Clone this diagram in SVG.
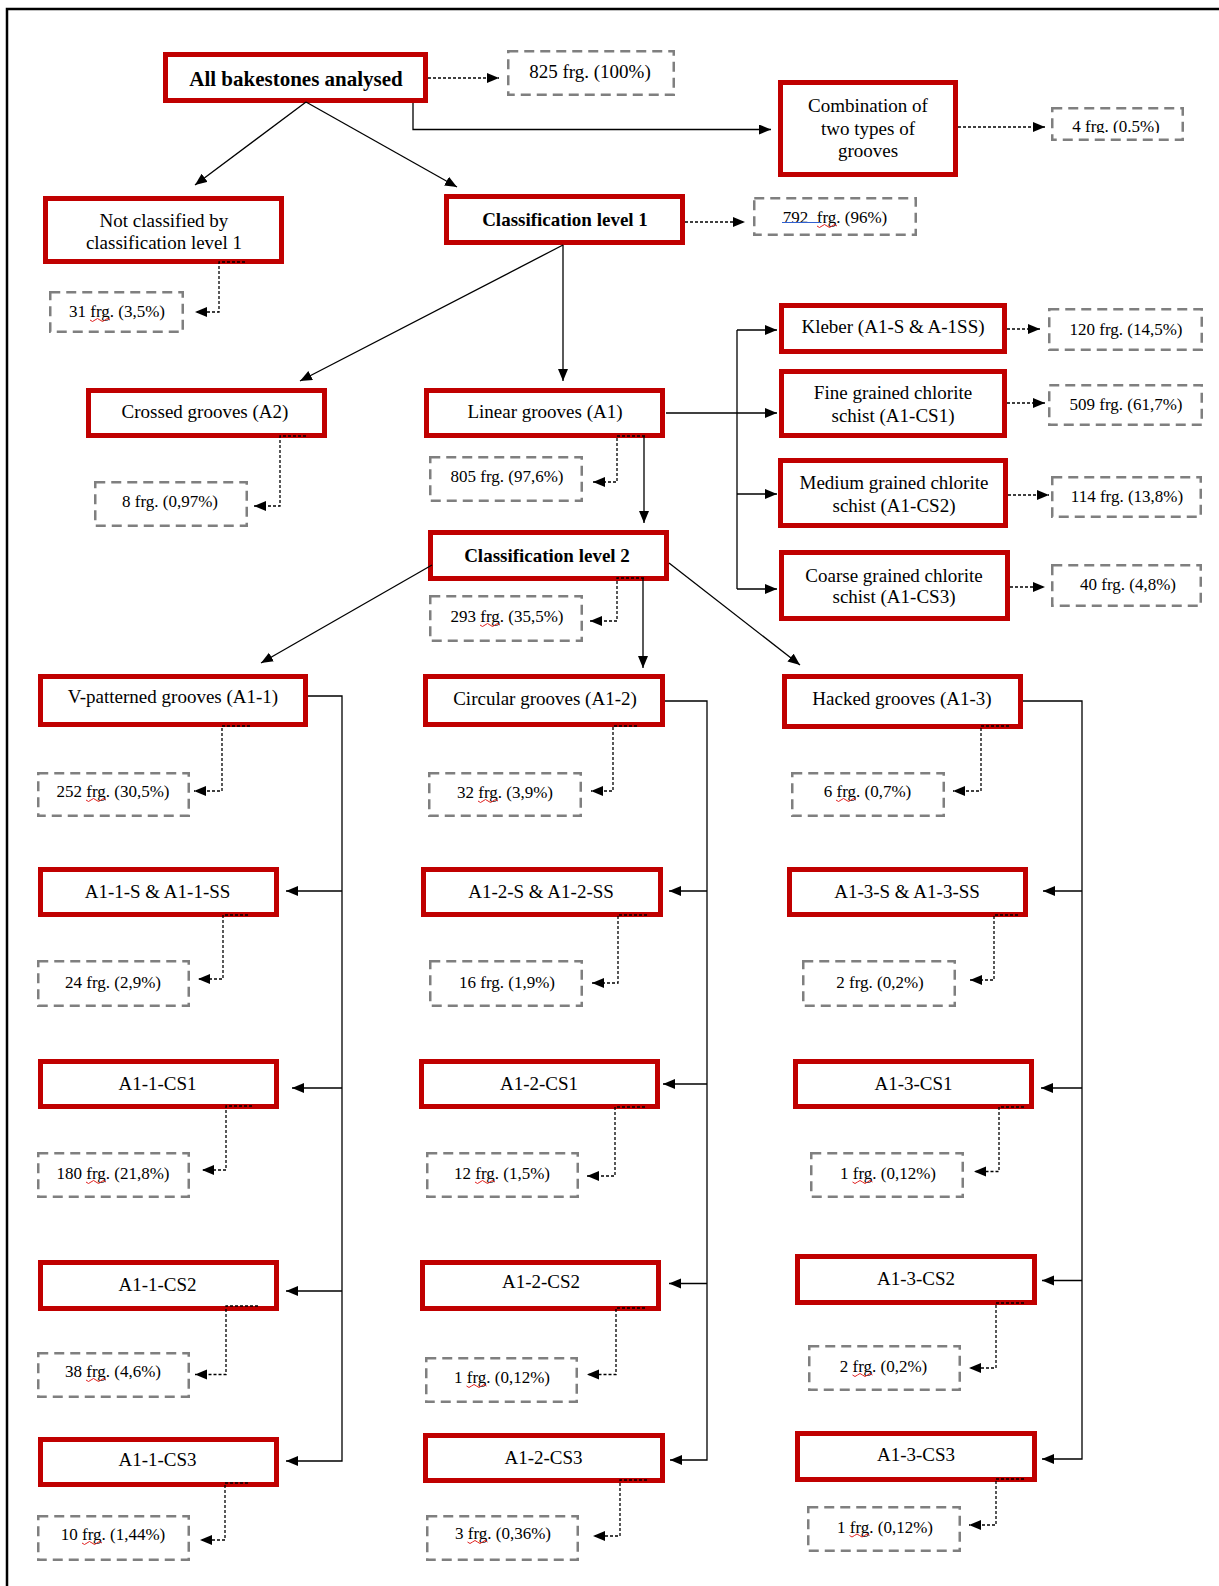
<svg xmlns="http://www.w3.org/2000/svg" width="1219" height="1586" viewBox="0 0 1219 1586">
<style>
.n rect{fill:#fff;stroke:#c00000;stroke-width:5}
.g rect{fill:#fff;stroke:#7f7f7f;stroke-width:2.5;stroke-dasharray:10 6}
text{font-family:"Liberation Serif","Times New Roman",serif;fill:#000;text-anchor:middle}
.t{font-size:19px}
.b{font-weight:bold}
.s{font-size:17px}
.c path{fill:none;stroke:#000;stroke-width:1.3}
.c .d{stroke-dasharray:3 2}
.sq{fill:none;stroke:#e02020;stroke-width:1}
</style>
<defs>
<marker id="ah" markerUnits="userSpaceOnUse" markerWidth="13" markerHeight="11" refX="12" refY="5" orient="auto"><path d="M0,0 L12,5 L0,10 z" fill="#000"/></marker>
<clipPath id="clip4"><rect x="1051" y="107" width="133" height="26"/></clipPath>
</defs>
<rect x="0" y="0" width="1219" height="1586" fill="#fff"/>
<path d="M7,1586 V9 H1219" fill="none" stroke="#000" stroke-width="2.5"/>

<g id="n-all" class="n"><rect x="165.5" y="54.5" width="260" height="46"/><text class="t b" x="296" y="86" style="font-size:21px">All bakestones analysed</text></g>
<g id="n-notclass" class="n"><rect x="45.5" y="198.5" width="236" height="63"/><text class="t" x="164" y="227">Not classified by</text><text class="t" x="164" y="249">classification level 1</text></g>
<g id="n-class1" class="n"><rect x="446.5" y="196.5" width="236" height="46"/><text class="t b" x="565" y="226">Classification level 1</text></g>
<g id="n-comb" class="n"><rect x="780.5" y="82.5" width="175" height="92"/><text class="t" x="868" y="112">Combination of</text><text class="t" x="868" y="135">two types of</text><text class="t" x="868" y="157">grooves</text></g>
<g id="n-kleber" class="n"><rect x="781.5" y="305.5" width="223" height="46"/><text class="t" x="893" y="333">Kleber (A1-S &amp; A-1SS)</text></g>
<g id="n-fine" class="n"><rect x="781.5" y="371.5" width="223" height="64"/><text class="t" x="893" y="399">Fine grained chlorite</text><text class="t" x="893" y="422">schist (A1-CS1)</text></g>
<g id="n-medium" class="n"><rect x="780.5" y="460.5" width="225" height="65"/><text class="t" x="894" y="489">Medium grained chlorite</text><text class="t" x="894" y="512">schist (A1-CS2)</text></g>
<g id="n-coarse" class="n"><rect x="781.5" y="552.5" width="226" height="66"/><text class="t" x="894" y="582">Coarse grained chlorite</text><text class="t" x="894" y="603">schist (A1-CS3)</text></g>
<g id="n-crossed" class="n"><rect x="88.5" y="390.5" width="236" height="45"/><text class="t" x="205" y="418">Crossed grooves (A2)</text></g>
<g id="n-linear" class="n"><rect x="426.5" y="390.5" width="236" height="45"/><text class="t" x="545" y="418">Linear grooves (A1)</text></g>
<g id="n-class2" class="n"><rect x="430.5" y="532.5" width="236" height="46"/><text class="t b" x="547" y="562">Classification level 2</text></g>
<g id="n-vpat" class="n"><rect x="40.5" y="676.5" width="265" height="48"/><text class="t" x="173" y="703">V-patterned grooves (A1-1)</text></g>
<g id="n-circ" class="n"><rect x="425.5" y="676.5" width="237" height="48"/><text class="t" x="545" y="705">Circular grooves (A1-2)</text></g>
<g id="n-hack" class="n"><rect x="784.5" y="676.5" width="236" height="50"/><text class="t" x="902" y="705">Hacked grooves (A1-3)</text></g>
<g id="n-a11s" class="n"><rect x="40.5" y="869.5" width="236" height="45"/><text class="t" x="157.5" y="898">A1-1-S &amp; A1-1-SS</text></g>
<g id="n-a12s" class="n"><rect x="423.5" y="869.5" width="237" height="45"/><text class="t" x="541" y="898">A1-2-S &amp; A1-2-SS</text></g>
<g id="n-a13s" class="n"><rect x="789.5" y="869.5" width="236" height="45"/><text class="t" x="907" y="898">A1-3-S &amp; A1-3-SS</text></g>
<g id="n-a11cs1" class="n"><rect x="40.5" y="1061.5" width="236" height="45"/><text class="t" x="157.5" y="1090">A1-1-CS1</text></g>
<g id="n-a12cs1" class="n"><rect x="421.5" y="1061.5" width="236" height="45"/><text class="t" x="539" y="1090">A1-2-CS1</text></g>
<g id="n-a13cs1" class="n"><rect x="795.5" y="1061.5" width="236" height="45"/><text class="t" x="913.5" y="1090">A1-3-CS1</text></g>
<g id="n-a11cs2" class="n"><rect x="40.5" y="1262.5" width="236" height="46"/><text class="t" x="157.5" y="1291">A1-1-CS2</text></g>
<g id="n-a12cs2" class="n"><rect x="422.5" y="1262.5" width="236" height="46"/><text class="t" x="541" y="1288">A1-2-CS2</text></g>
<g id="n-a13cs2" class="n"><rect x="797.5" y="1256.5" width="237" height="46"/><text class="t" x="916" y="1285">A1-3-CS2</text></g>
<g id="n-a11cs3" class="n"><rect x="40.5" y="1439.5" width="236" height="45"/><text class="t" x="157.5" y="1466">A1-1-CS3</text></g>
<g id="n-a12cs3" class="n"><rect x="425.5" y="1435.5" width="237" height="45"/><text class="t" x="543.5" y="1464">A1-2-CS3</text></g>
<g id="n-a13cs3" class="n"><rect x="797.5" y="1433.5" width="237" height="46"/><text class="t" x="916" y="1461">A1-3-CS3</text></g>

<g id="q-825" class="g"><rect x="508.25" y="51.25" width="165.5" height="43.5"/><text class="t" x="590" y="78">825 frg. (100%)</text></g>
<g id="q-4" class="g"><rect x="1052.25" y="108.25" width="130.5" height="31.5"/><text class="s" x="1116" y="132" clip-path="url(#clip4)">4 frg. (0.5%)</text></g>
<g id="q-792" class="g"><rect x="754.25" y="198.25" width="161.5" height="36.5"/><text class="s" x="835" y="223" style="white-space:pre">792  frg. (96%)</text><path d="M782,222.5 H820" stroke="#3060d0" stroke-width="1.2"/><path class="sq" d="M817,226 q2.5,3 5,0 t5,0 t5,0 t5,0"/></g>
<g id="q-31" class="g"><rect x="50.25" y="292.25" width="132.5" height="39.5"/><text class="s" x="117" y="317">31 frg. (3,5%)</text><path class="sq" d="M90,320 q2.5,3 5,0 t5,0 t5,0 t5,0"/></g>
<g id="q-8" class="g"><rect x="95.25" y="482.25" width="151.5" height="43.5"/><text class="s" x="170" y="507">8 frg. (0,97%)</text></g>
<g id="q-805" class="g"><rect x="430.25" y="457.25" width="151.5" height="43.5"/><text class="s" x="507" y="482">805 frg. (97,6%)</text></g>
<g id="q-293" class="g"><rect x="430.25" y="596.25" width="151.5" height="44.5"/><text class="s" x="507" y="622">293 frg. (35,5%)</text><path class="sq" d="M480,625 q2.5,3 5,0 t5,0 t5,0 t5,0"/></g>
<g id="q-120" class="g"><rect x="1049.25" y="309.25" width="152.5" height="40.5"/><text class="s" x="1126" y="335">120 frg. (14,5%)</text></g>
<g id="q-509" class="g"><rect x="1049.25" y="385.25" width="152.5" height="39.5"/><text class="s" x="1126" y="410">509 frg. (61,7%)</text></g>
<g id="q-114" class="g"><rect x="1052.25" y="477.25" width="148.5" height="39.5"/><text class="s" x="1127" y="502">114 frg. (13,8%)</text></g>
<g id="q-40" class="g"><rect x="1052.25" y="565.25" width="148.5" height="40.5"/><text class="s" x="1128" y="590">40 frg. (4,8%)</text></g>
<g id="q-252" class="g"><rect x="38.25" y="773.25" width="150.5" height="42.5"/><text class="s" x="113" y="797">252 frg. (30,5%)</text><path class="sq" d="M86,800 q2.5,3 5,0 t5,0 t5,0 t5,0"/></g>
<g id="q-32" class="g"><rect x="429.25" y="773.25" width="151.5" height="42.5"/><text class="s" x="505" y="798">32 frg. (3,9%)</text><path class="sq" d="M478,801 q2.5,3 5,0 t5,0 t5,0 t5,0"/></g>
<g id="q-6" class="g"><rect x="792.25" y="773.25" width="151.5" height="42.5"/><text class="s" x="867.5" y="797">6 frg. (0,7%)</text><path class="sq" d="M836,800 q2.5,3 5,0 t5,0 t5,0 t5,0"/></g>
<g id="q-24" class="g"><rect x="38.25" y="961.25" width="150.5" height="44.5"/><text class="s" x="113" y="988">24 frg. (2,9%)</text></g>
<g id="q-16" class="g"><rect x="430.25" y="961.25" width="151.5" height="44.5"/><text class="s" x="507" y="988">16 frg. (1,9%)</text></g>
<g id="q-2a" class="g"><rect x="803.25" y="961.25" width="151.5" height="44.5"/><text class="s" x="880" y="988">2 frg. (0,2%)</text></g>
<g id="q-180" class="g"><rect x="38.25" y="1153.25" width="150.5" height="43.5"/><text class="s" x="113" y="1179">180 frg. (21,8%)</text><path class="sq" d="M86,1182 q2.5,3 5,0 t5,0 t5,0 t5,0"/></g>
<g id="q-12" class="g"><rect x="427.25" y="1153.25" width="150.5" height="43.5"/><text class="s" x="502" y="1179">12 frg. (1,5%)</text><path class="sq" d="M475,1182 q2.5,3 5,0 t5,0 t5,0 t5,0"/></g>
<g id="q-1a" class="g"><rect x="811.25" y="1153.25" width="151.5" height="43.5"/><text class="s" x="888" y="1179">1 frg. (0,12%)</text><path class="sq" d="M852.5,1182 q2.5,3 5,0 t5,0 t5,0 t5,0"/></g>
<g id="q-38" class="g"><rect x="38.25" y="1353.25" width="150.5" height="43.5"/><text class="s" x="113" y="1377">38 frg. (4,6%)</text><path class="sq" d="M86,1380 q2.5,3 5,0 t5,0 t5,0 t5,0"/></g>
<g id="q-1b" class="g"><rect x="426.25" y="1358.25" width="150.5" height="43.5"/><text class="s" x="502" y="1383">1 frg. (0,12%)</text><path class="sq" d="M466.5,1386 q2.5,3 5,0 t5,0 t5,0 t5,0"/></g>
<g id="q-2b" class="g"><rect x="809.25" y="1346.25" width="150.5" height="43.5"/><text class="s" x="883.5" y="1372">2 frg. (0,2%)</text><path class="sq" d="M852.5,1375 q2.5,3 5,0 t5,0 t5,0 t5,0"/></g>
<g id="q-10" class="g"><rect x="38.25" y="1516.25" width="150.5" height="43.5"/><text class="s" x="113" y="1540">10 frg. (1,44%)</text><path class="sq" d="M82,1543 q2.5,3 5,0 t5,0 t5,0 t5,0"/></g>
<g id="q-3" class="g"><rect x="427.25" y="1516.25" width="150.5" height="43.5"/><text class="s" x="503" y="1539">3 frg. (0,36%)</text><path class="sq" d="M467.5,1542 q2.5,3 5,0 t5,0 t5,0 t5,0"/></g>
<g id="q-1c" class="g"><rect x="808.25" y="1507.25" width="151.5" height="43.5"/><text class="s" x="885" y="1532.5">1 frg. (0,12%)</text><path class="sq" d="M849.5,1535.5 q2.5,3 5,0 t5,0 t5,0 t5,0"/></g>

<g id="connectors" class="c">
<path d="M306,102 L195,185" marker-end="url(#ah)"/>
<path d="M306,102 L457,187" marker-end="url(#ah)"/>
<path d="M413,103 V129.5 H771" marker-end="url(#ah)"/>
<path d="M563,245 V381" marker-end="url(#ah)"/>
<path d="M563,245 L300,381" marker-end="url(#ah)"/>
<path d="M666,413 H777" marker-end="url(#ah)"/>
<path d="M737,330 V589"/>
<path d="M737,330 H777" marker-end="url(#ah)"/>
<path d="M737,494 H777" marker-end="url(#ah)"/>
<path d="M737,589 H777" marker-end="url(#ah)"/>
<path d="M644,436 V523" marker-end="url(#ah)"/>
<path d="M432,565 L261,663" marker-end="url(#ah)"/>
<path d="M643,578 V668" marker-end="url(#ah)"/>
<path d="M669,563 L800,665" marker-end="url(#ah)"/>
<path d="M308,696 H342 V1461 H286" marker-end="url(#ah)"/>
<path d="M342,891 H286" marker-end="url(#ah)"/>
<path d="M342,1088 H292" marker-end="url(#ah)"/>
<path d="M342,1291 H286" marker-end="url(#ah)"/>
<path d="M665,701 H707 V1460 H670" marker-end="url(#ah)"/>
<path d="M707,891 H669" marker-end="url(#ah)"/>
<path d="M707,1084 H663" marker-end="url(#ah)"/>
<path d="M707,1283.5 H669" marker-end="url(#ah)"/>
<path d="M1023,701 H1082 V1459 H1042" marker-end="url(#ah)"/>
<path d="M1082,891 H1043" marker-end="url(#ah)"/>
<path d="M1082,1088 H1041" marker-end="url(#ah)"/>
<path d="M1082,1280.5 H1042" marker-end="url(#ah)"/>

<path class="d" d="M428,78 H499" marker-end="url(#ah)"/>
<path class="d" d="M958,127 H1045" marker-end="url(#ah)"/>
<path class="d" d="M685,222 H745" marker-end="url(#ah)"/>
<path class="d" d="M1007,329 H1040" marker-end="url(#ah)"/>
<path class="d" d="M1007,403 H1045" marker-end="url(#ah)"/>
<path class="d" d="M1008,495 H1049" marker-end="url(#ah)"/>
<path class="d" d="M1010,587 H1045" marker-end="url(#ah)"/>
<path class="d" d="M245,262 H219 V312 H195" marker-end="url(#ah)"/>
<path class="d" d="M306,436 H280 V506 H254" marker-end="url(#ah)"/>
<path class="d" d="M645,436 H617 V482 H593" marker-end="url(#ah)"/>
<path class="d" d="M644,578 H617 V621 H590" marker-end="url(#ah)"/>
<path class="d" d="M250,726 H222 V791 H194" marker-end="url(#ah)"/>
<path class="d" d="M637,726 H613 V791 H591" marker-end="url(#ah)"/>
<path class="d" d="M1009,726 H981 V791 H953" marker-end="url(#ah)"/>
<path class="d" d="M248,915 H223 V979 H198" marker-end="url(#ah)"/>
<path class="d" d="M647,915 H618 V983 H592" marker-end="url(#ah)"/>
<path class="d" d="M1018,915 H994 V980 H970" marker-end="url(#ah)"/>
<path class="d" d="M252,1106 H226 V1170 H202" marker-end="url(#ah)"/>
<path class="d" d="M645,1107 H615 V1176 H587" marker-end="url(#ah)"/>
<path class="d" d="M1024,1107 H999 V1171.5 H974" marker-end="url(#ah)"/>
<path class="d" d="M258,1306 H226 V1374.5 H195" marker-end="url(#ah)"/>
<path class="d" d="M645,1308 H616 V1374.5 H587" marker-end="url(#ah)"/>
<path class="d" d="M1024,1303 H996 V1368 H969" marker-end="url(#ah)"/>
<path class="d" d="M248,1483 H225 V1540 H200" marker-end="url(#ah)"/>
<path class="d" d="M647,1480 H620 V1536 H593" marker-end="url(#ah)"/>
<path class="d" d="M1024,1479 H996 V1525 H969" marker-end="url(#ah)"/>
</g>
</svg>
